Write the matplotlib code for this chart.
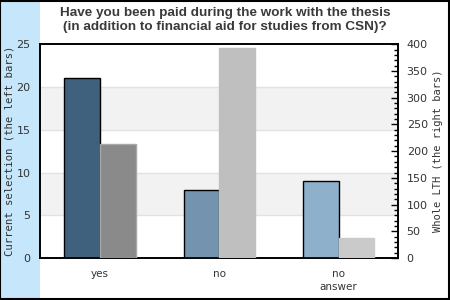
import numpy as np
import matplotlib.pyplot as plt
from matplotlib.ticker import MultipleLocator

# values
categories = ['yes', 'no', 'no\nanswer']
current = [21, 8, 9]          # left bars, left axis
whole_lth = [213, 393, 37]    # right bars, right axis

left_colors = ['#40617d', '#7393ae', '#8fb0cb']
right_colors = ['#8a8a8a', '#bfbfbf', '#cacaca']
right_edges = ['#a8a8a8', '#bfbfbf', '#cacaca']

txt = '#333333'

fig = plt.figure(figsize=(4.5, 3), dpi=100)
fig.patch.set_facecolor('white')

# light blue strip on the left
fig.patches.append(plt.Rectangle((0, 0), 40 / 450, 1, transform=fig.transFigure,
                                 facecolor='#c6e6fb', edgecolor='none', zorder=-5))
# outer frame
fig.patches.append(plt.Rectangle((0.001, 0.002), 0.997, 0.995, transform=fig.transFigure,
                                 facecolor='none', edgecolor='black', linewidth=1.5, zorder=5))

ax = fig.add_axes([40.3 / 450, 42 / 300, 358 / 450, 213.7 / 300])
ax2 = ax.twinx()

x = np.arange(len(categories))
w = 0.3

# shaded bands + grid lines
for lo, hi in [(5, 10), (15, 20)]:
    ax.axhspan(lo, hi, facecolor='#f2f2f2', edgecolor='none', zorder=0)
for g in [5, 10, 15, 20]:
    ax.axhline(g, color='#e2e2e2', linewidth=1, zorder=0.5)

ax.bar(x - w / 2, current, w, color=left_colors, edgecolor='black', linewidth=1, zorder=3)
ax2.bar(x + w / 2, whole_lth, w, color=right_colors, edgecolor=right_edges, linewidth=1, zorder=3)

ax.set_xlim(-0.5, 2.5)
ax.set_ylim(0, 25)
ax2.set_ylim(0, 400)

ax.set_xticks(x)
ax.set_xticklabels(categories, fontsize=7.5, color=txt, linespacing=1.3)
ax.tick_params(axis='x', length=0, pad=8)
ax.tick_params(axis='y', length=0, pad=7, labelsize=8, labelcolor=txt)
ax.yaxis.set_major_locator(MultipleLocator(5))

ax2.yaxis.set_major_locator(MultipleLocator(50))
ax2.yaxis.set_minor_locator(MultipleLocator(10))
ax2.tick_params(axis='y', which='major', direction='in', length=5, width=1, pad=6,
                labelsize=8, labelcolor=txt)
ax2.tick_params(axis='y', which='minor', direction='in', length=3, width=1)

for a in (ax, ax2):
    for s in a.spines.values():
        s.set_linewidth(1.2)
        s.set_color('black')

ax.set_ylabel('Current selection (the left bars)', family='DejaVu Sans Mono',
              fontsize=7.7, color=txt)
ax.yaxis.set_label_coords(-26 / 358, 0.5)
ax2.set_ylabel('Whole LTH (the right bars)', family='DejaVu Sans Mono',
               fontsize=7.5, color=txt, rotation=90)
ax2.yaxis.set_label_coords(1 + 35 / 358, 0.5)

fig.text(0.5, 0.933, 'Have you been paid during the work with the thesis\n'
         '(in addition to financial aid for studies from CSN)?',
         ha='center', va='center', fontsize=9.7, fontweight='bold', color='#3a3a3a',
         family='Liberation Sans', linespacing=1.3)

fig.savefig('out.png', dpi=100)
